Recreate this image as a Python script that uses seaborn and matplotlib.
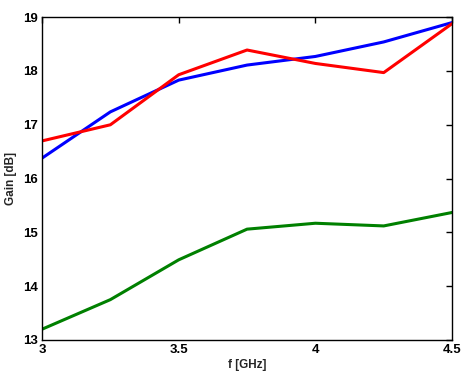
import pandas as pd
import seaborn as sns
import matplotlib.pyplot as plt

freq = [3.0, 3.25, 3.5, 3.75, 4.0, 4.25, 4.5]
gain_blue = [16.38, 17.24, 17.83, 18.11, 18.27, 18.54, 18.9]
gain_red = [16.70, 17.00, 17.93, 18.39, 18.14, 17.97, 18.88]
gain_green = [13.20, 13.75, 14.49, 15.06, 15.17, 15.12, 15.37]

df = pd.DataFrame({
    'f': freq * 3,
    'gain': gain_blue + gain_red + gain_green,
    'series': ['blue'] * 7 + ['red'] * 7 + ['green'] * 7,
})

sns.set_style('white')
plt.rcParams['font.family'] = ['Liberation Sans', 'DejaVu Sans']

fig = plt.figure(figsize=(4.67, 3.82), dpi=100)
ax = fig.add_axes([0.09, 0.11, 0.878, 0.845])

sns.lineplot(data=df, x='f', y='gain', hue='series',
             palette={'blue': '#0000ff', 'red': '#ff0000', 'green': '#008000'},
             linewidth=2.2, legend=False, ax=ax)

ax.set_xlim(3, 4.5)
ax.set_ylim(13, 19)
ax.set_xticks([3, 3.5, 4, 4.5])
ax.set_xticklabels(['3', '3.5', '4', '4.5'])
ax.set_yticks(range(13, 20))
ax.tick_params(direction='in', top=True, right=True, length=4, width=1,
               labelsize=9.5, colors='black', pad=3)
for lab in ax.get_xticklabels() + ax.get_yticklabels():
    lab.set_fontweight('bold')
for s in ax.spines.values():
    s.set_color('black')
    s.set_linewidth(1)

ax.set_xlabel('f [GHz]', fontsize=8.5, fontweight='bold', labelpad=2)
ax.set_ylabel('Gain [dB]', fontsize=8.5, fontweight='bold', labelpad=4)

fig.savefig('out.png', dpi=100)
